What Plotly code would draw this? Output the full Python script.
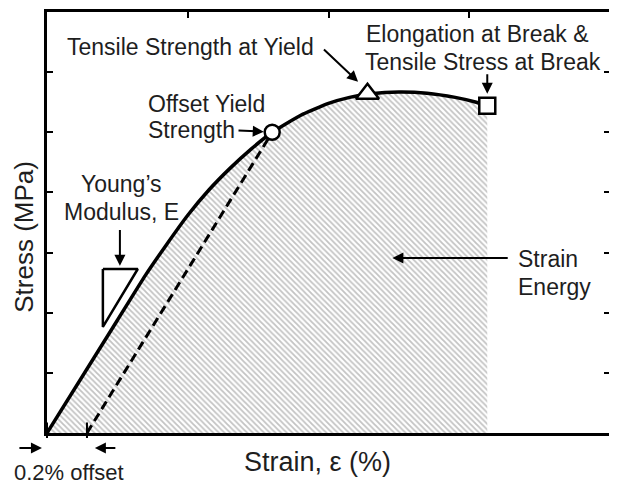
#!/usr/bin/env python3
"""Schematic stress-strain curve with annotated tensile properties."""

import plotly.graph_objects as go

# curve (strain in %, stress in axis units)
STRAIN = [0, 0.5, 0.7, 0.85, 1.0, 1.15, 1.3, 1.45, 1.6, 1.8, 2.0, 2.15, 2.3, 2.5, 2.7, 2.9, 3.05, 3.128]
STRESS = [0, 1.875, 2.625, 3.135, 3.62, 4.04, 4.40, 4.72, 5.00, 5.28, 5.48, 5.58, 5.64, 5.67, 5.65, 5.58, 5.50, 5.44]

# 0.2% offset line
OFFSET_X = [0.284, 1.60]
OFFSET_Y = [0, 5.00]

# key points: offset yield, tensile strength at yield, break
POINT_X = [1.60, 2.277, 3.128]
POINT_Y = [5.00, 5.64, 5.44]

# Young's modulus slope triangle
YM_TRI_X = [0.397, 0.645, 0.397, 0.397]
YM_TRI_Y = [2.727, 2.727, 1.763, 2.727]

TEXT = "#1e1e1e"
FONT = "Liberation Sans, Arial, sans-serif"
FS = 23

fig = go.Figure()

fig.add_trace(
    go.Scatter(
        x=STRAIN,
        y=STRESS,
        mode="lines",
        line=dict(color="black", width=3.5, shape="spline", smoothing=0.5),
        fill="tozeroy",
        fillcolor="rgba(0,0,0,0)",
        fillpattern=dict(shape="\\", size=4, solidity=0.45, fgcolor="#878787", bgcolor="white"),
        hoverinfo="skip",
    )
)
fig.add_trace(
    go.Scatter(
        x=OFFSET_X,
        y=OFFSET_Y,
        mode="lines",
        line=dict(color="black", width=3, dash="9px,5px"),
        hoverinfo="skip",
    )
)
fig.add_trace(
    go.Scatter(
        x=YM_TRI_X,
        y=YM_TRI_Y,
        mode="lines",
        line=dict(color="black", width=2.5),
        fill="toself",
        fillcolor="white",
        hoverinfo="skip",
    )
)
fig.add_trace(
    go.Scatter(
        x=POINT_X,
        y=POINT_Y,
        mode="markers",
        marker=dict(
            symbol=["circle", "triangle-up", "square"],
            size=[15, 20, 16],
            color="white",
            opacity=1,
            line=dict(color="black", width=2.5),
        ),
        cliponaxis=False,
        hoverinfo="skip",
    )
)


def label(x, y, text, xanchor="center", ref="", size=FS, angle=0):
    fig.add_annotation(
        x=x, y=y, xref=(ref or "x"), yref=(ref or "y"), text=text, showarrow=False,
        xanchor=xanchor, yanchor="middle", textangle=angle,
        font=dict(family=FONT, size=size, color=TEXT),
    )


def arrow(x0, y0, x1, y1, head=2, width=2):
    fig.add_annotation(
        x=x1, y=y1, ax=x0, ay=y0, xref="x", yref="y", axref="x", ayref="y",
        text="", showarrow=True, arrowhead=head, arrowsize=1.1, arrowwidth=width,
        arrowcolor="black",
    )


def paper_arrow(x, y, dx, dy, head=2, width=2):
    # tail given as pixel offset from the head
    fig.add_annotation(
        x=x, y=y, xref="paper", yref="paper", ax=dx, ay=dy,
        text="", showarrow=True, arrowhead=head, arrowsize=1.1, arrowwidth=width,
        arrowcolor="black",
    )


label(1.016, 6.42, "Tensile Strength at Yield")
arrow(1.957, 6.40, 2.21, 5.84)

label(0.70, 5.47, "Offset Yield", xanchor="left")
label(0.70, 5.04, "Strength", xanchor="left")
arrow(1.35, 5.03, 1.54, 5.01)

label(3.055, 6.635, "Elongation at Break &amp;")
label(3.098, 6.17, "Tensile Stress at Break")
arrow(3.128, 5.99, 3.128, 5.64)

label(0.526, 4.14, "Young’s")
label(0.526, 3.675, "Modulus, E")
arrow(0.518, 3.40, 0.518, 2.78)

label(3.33, 2.893, "Strain", xanchor="left")
label(3.33, 2.428, "Energy", xanchor="left")
arrow(3.284, 2.91, 2.454, 2.91)

# 0.2% offset marker below the axis (paper coords so it is not hidden)
label(0.039, -0.093, "0.2% offset", ref="paper", size=22)
paper_arrow(0, -0.012, 0, -17, head=0)
paper_arrow(0.071, -0.012, 0, -17, head=0)
paper_arrow(-0.009, -0.0356, -24, 0)
paper_arrow(0.085, -0.0356, 22, 0)

label(0.481, -0.069, "Strain, ε (%)", ref="paper", size=27)
label(-0.041, 0.466, "Stress (MPa)", ref="paper", size=26, angle=-90)

axis_style = dict(
    showgrid=False,
    zeroline=False,
    showticklabels=False,
    showline=True,
    linecolor="black",
    linewidth=3,
    ticks="inside",
    ticklen=6,
    tickwidth=2,
    tickcolor="black",
    dtick=1,
)
# ticks only on the top edge for x, on both edges for y
fig.update_xaxes(range=[0, 4], side="top", mirror=True, **axis_style)
fig.update_yaxes(range=[0, 7], mirror="allticks", **axis_style)

# page body adds an 8px margin, so the figure is trimmed by that much
fig.update_layout(
    width=609,
    height=479,
    margin=dict(l=39, r=7, t=4, b=54),
    paper_bgcolor="white",
    plot_bgcolor="white",
    showlegend=False,
    font=dict(family=FONT, color=TEXT),
)

fig.write_html("out.html")
